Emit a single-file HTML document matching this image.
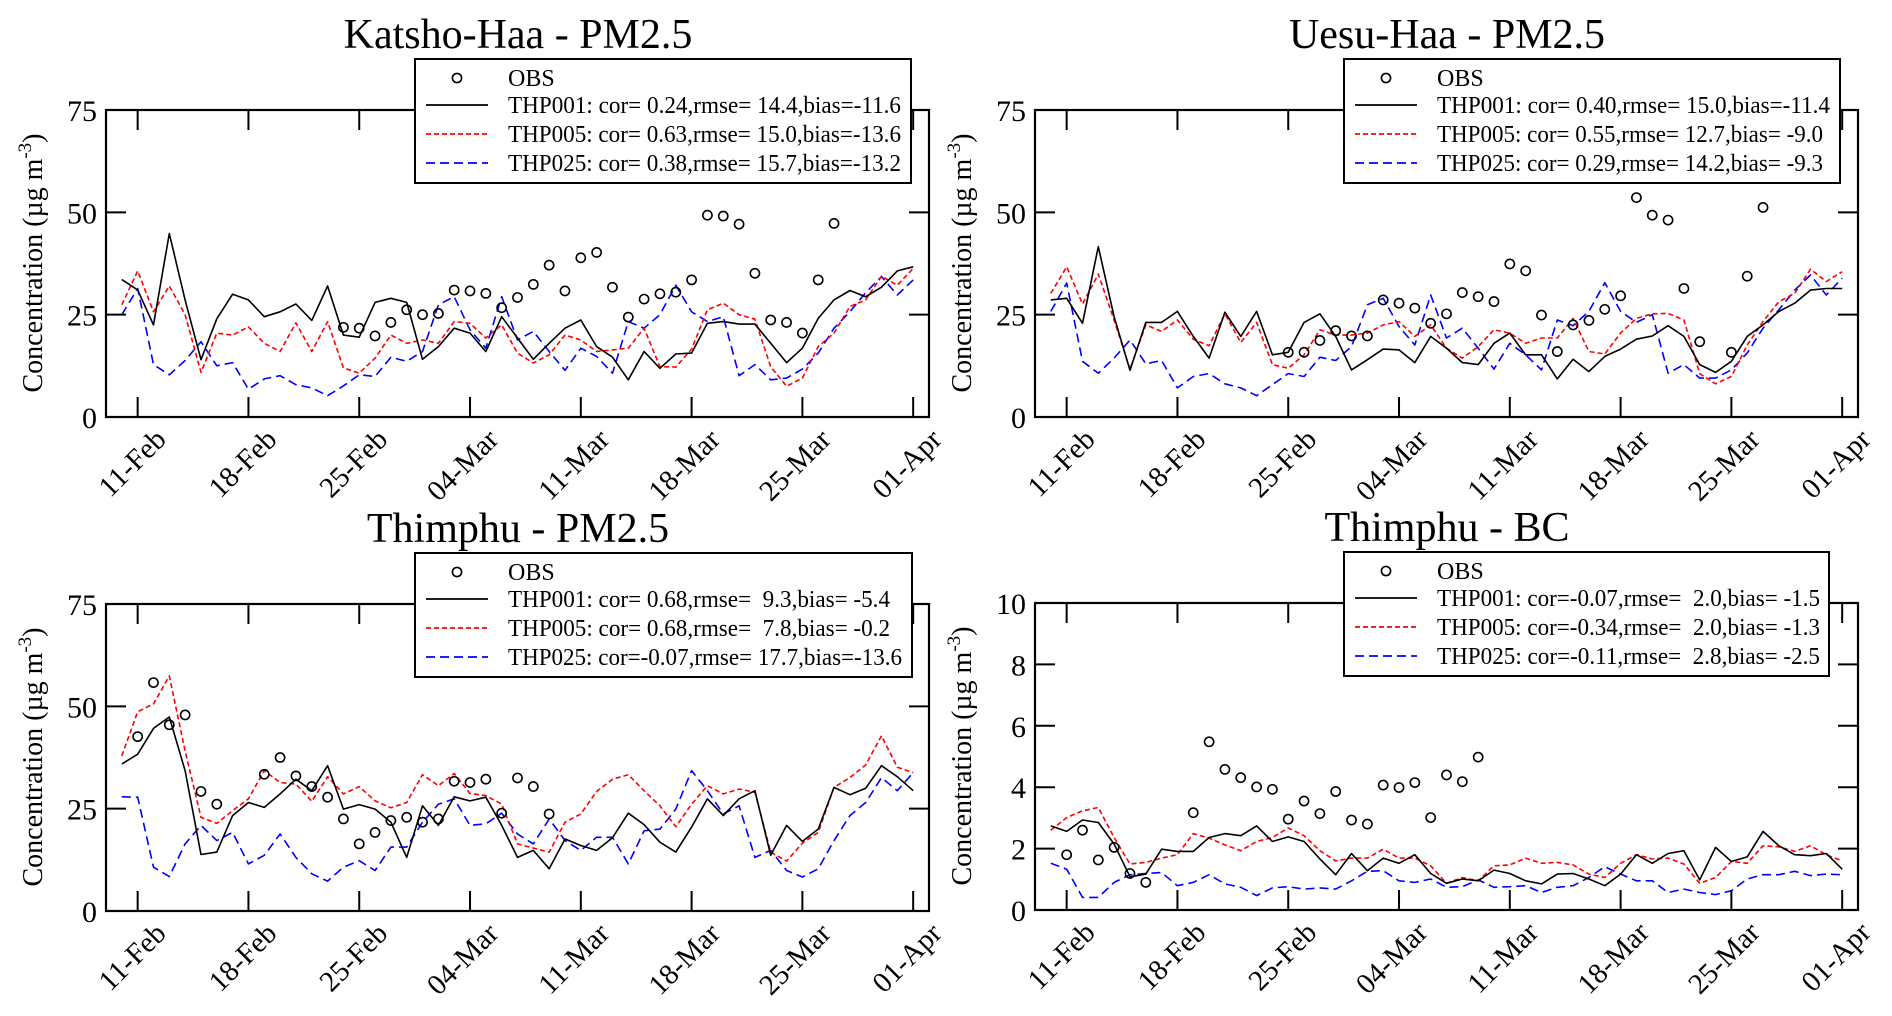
<!DOCTYPE html>
<html><head><meta charset="utf-8">
<style>
html,body{margin:0;padding:0;background:#fff;}
svg, svg text, svg tspan{font-family:"Liberation Serif","Times New Roman",Times,"DejaVu Serif","Noto Serif CJK SC",serif !important;}
</style></head>
<body>
<svg id="fig" width="1892" height="1011" viewBox="0 0 1892 1011" xmlns="http://www.w3.org/2000/svg"></svg>
<script>
// ---- shared axis data ----
const tickDays = [2, 9, 16, 23, 30, 37, 44, 51];
const tickLabels = ["11-Feb", "18-Feb", "25-Feb", "04-Mar", "11-Mar", "18-Mar", "25-Mar", "01-Apr"];
const pmTicks = [0, 25, 50, 75];
const bcTicks = [0, 2, 4, 6, 8, 10];

// ---- Katsho-Haa PM2.5 ----
const khThp001 = [33.6,31,22.5,44.8,28.6,14,24,30,28.6,24.5,25.7,27.6,23.6,32,20,19.5,28,29,28,14.1,17.2,21.7,20.5,16,24.5,19.3,14.1,18,21.7,23.7,17.2,14.6,9.1,16,11.9,15.4,15.6,22.9,23.3,22.7,22.7,18,13.3,16.8,24.1,28.6,30.9,29.4,31.7,35.7,36.7];
const khThp005 = [27.4,35.7,25.7,32,25,10.9,20.5,20,22,18,16,23,16,23.3,12,10.7,14.4,20,18,18.8,18,23.3,22.9,19.3,22.5,15.6,13.2,15.2,20,18.8,16,16.4,16.8,21.7,12.3,12.2,16.6,26.2,27.8,25,23.9,12.3,7.5,9.5,17.2,20.5,27,28.6,34.4,32.2,36.3];
const khThp025 = [25,31.4,12.8,10.3,13.8,18.4,12.5,13.3,6.8,9.3,10.1,7.9,7.1,5.2,7.6,10.3,9.9,14.6,13.6,16,27.4,29.4,21.3,16.8,29.4,18.8,20.9,16,11.4,16.8,14.8,10.7,23.3,21.7,25,32.2,25.7,23.3,24.5,10.1,12.8,9.1,9.5,11.7,15.6,21.7,25.7,30.4,34.3,29.8,33.5];
const khObsDays = [15,16,17,18,19,20,21,22,23,24,25,26,27,28,29,30,31,32,33,34,35,36,37,38,39,40,41,42,43,44,45,46];
const khObsVals = [21.9,21.7,19.8,23.1,26.2,25,25.3,31,30.8,30.2,26.7,29.2,32.4,37.1,30.8,38.9,40.2,31.7,24.4,28.8,30.1,30.5,33.5,49.3,49.1,47.1,35.1,23.7,23.1,20.5,33.5,47.3];

// ---- Uesu-Haa PM2.5 ----
const uhThp001 = [28.6,29,22.9,41.6,24.5,11.4,23.1,23.1,25.8,19.7,14.4,25.6,19.7,25.8,15.2,15.8,23.1,25.2,19.7,11.5,14,16.6,16.4,13.3,19.7,16.8,13.3,12.8,18,20.5,15.2,15.2,9.3,14.1,11.1,14.8,16.6,19,19.8,22.3,19.7,12.8,10.9,13.6,19.7,22.5,25.8,27.8,31,31.4,31.4];
const uhThp005 = [30.2,36.7,27.6,34.9,23.7,11.7,22.5,20.9,23.7,19,17.4,25.2,18.2,23.1,12.8,11.9,15.2,21.3,20,20,20.5,22.5,23.3,19.7,22.5,16.8,14.4,17.2,21.3,20.5,18,19.3,19.3,24.1,16,15.4,20.5,24.1,25.2,25.3,23.7,10.6,8.1,9.9,17.6,23.3,28.2,30.2,36.1,33.1,35.5];
const uhThp025 = [25.8,32.7,13.6,10.7,14.4,18.8,13,13.8,7.1,9.9,10.6,8.1,7.1,5.2,7.9,10.6,9.9,14.6,13.8,17.2,27.4,29,22.1,17.6,29.8,19.3,21.7,16.8,11.7,18,15.2,11.5,23.7,22.3,25.8,32.8,25.8,23.1,25,10.7,12.8,9.5,9.5,11.5,15.6,21.7,26.2,31,34.7,29.8,33.9];
const uhObsDays = [16,17,18,19,20,21,22,23,24,25,26,27,28,29,30,31,32,33,34,35,36,37,38,39,40,41,42,44,45,46];
const uhObsVals = [15.8,15.8,18.7,21.1,19.8,19.8,28.6,27.8,26.6,22.9,25.2,30.4,29.4,28.2,37.4,35.7,24.9,16,22.5,23.6,26.3,29.6,53.6,49.3,48.1,31.4,18.4,15.8,34.4,51.2];

// ---- Thimphu PM2.5 ----
const tpThp001 = [35.9,38.3,44.6,47.4,34.3,13.8,14.4,23.3,26.5,25.3,28.6,32.2,29.4,35.5,24.9,26,24.9,21.7,13.1,25.7,20.9,27.9,26.9,27.8,20.9,13.1,14.8,10.3,17.6,16,14.8,17.9,23.9,21.1,16.8,14.4,20.5,27.4,23.3,27.4,29.4,13.6,20.9,17,20,30.2,28.4,30,35.5,32.8,29.4];
const tpThp005 = [37.9,48.7,50.6,57.4,39.1,22.9,21.4,24.5,27.4,34.3,31.4,31,26.8,32.8,28.6,30.4,26.9,25.2,26.5,33.3,30.6,33.6,28.7,28.2,26.1,16.4,15.4,14.4,21.7,23.7,29.2,32.2,33.3,29.4,25.7,20.6,26.1,30.6,28.6,29.8,29,14.4,12.2,16.6,19.2,30.2,32.6,35.7,42.8,35.1,33.8];
const tpThp025 = [27.9,27.8,10.7,8.4,16.4,20.9,17.2,19.2,11.5,13.6,18.8,13.1,9.1,7.3,10.7,12.3,9.9,15.6,15.6,21.7,26.1,27.4,20.9,21.3,23.9,18.8,16.4,22.5,17.2,14.8,18,18,11.5,19.6,20,24.9,34.3,29.4,23.7,25.7,13.1,14.8,9.9,8.3,10.3,17.2,23.3,26.5,32.6,29.4,33.8];
const tpObsDays = [2,3,4,5,6,7,10,11,12,13,14,15,16,17,18,19,20,21,22,23,24,25,26,27,28];
const tpObsVals = [42.6,55.8,45.5,47.9,29.2,26.1,33.4,37.5,33,30.4,27.8,22.5,16.4,19.2,22.1,22.9,21.7,22.5,31.7,31.4,32.2,23.9,32.5,30.4,23.7];

// ---- Thimphu BC ----
const bcThp001 = [2.74,2.56,2.93,2.85,2.15,1.08,1.17,1.98,1.91,1.91,2.36,2.49,2.42,2.74,2.23,2.38,2.23,1.66,1.15,1.84,1.28,1.69,1.52,1.8,1.19,0.87,1.01,0.95,1.3,1.19,0.95,0.85,1.17,1.19,1.01,0.79,1.17,1.8,1.52,1.84,1.93,0.98,2.04,1.58,1.73,2.56,2.09,1.8,1.77,1.84,1.33];
const bcThp005 = [2.6,3.01,3.23,3.34,2.36,1.5,1.55,1.69,1.8,2.49,2.34,2.12,1.93,2.23,2.36,2.67,2.42,1.93,1.6,1.69,1.69,1.98,1.69,1.69,1.44,0.87,1.06,0.95,1.44,1.47,1.69,1.52,1.55,1.47,1.17,1.06,1.52,1.8,1.66,1.69,1.5,0.87,1.06,1.58,1.52,2.09,2.06,1.91,2.09,1.8,1.6];
const bcThp025 = [1.52,1.33,0.41,0.41,0.9,1.15,1.19,1.22,0.79,0.9,1.15,0.85,0.74,0.47,0.72,0.76,0.68,0.72,0.68,0.95,1.26,1.28,0.95,0.9,1.01,0.74,0.76,0.98,0.74,0.76,0.79,0.57,0.74,0.79,1.06,1.41,1.17,0.95,0.95,0.57,0.68,0.57,0.5,0.63,1.01,1.15,1.15,1.26,1.12,1.17,1.15];
const bcObsDays = [2,3,4,5,6,7,10,11,12,13,14,15,16,17,18,19,20,21,22,23,24,25,26,27,28];
const bcObsVals = [1.8,2.6,1.63,2.04,1.19,0.9,3.17,5.48,4.58,4.31,4.01,3.93,2.96,3.55,3.14,3.86,2.93,2.8,4.07,3.99,4.15,3.01,4.4,4.18,4.98];

const khLegend = ["THP001: cor= 0.24,rmse= 14.4,bias=-11.6","THP005: cor= 0.63,rmse= 15.0,bias=-13.6","THP025: cor= 0.38,rmse= 15.7,bias=-13.2"];
const uhLegend = ["THP001: cor= 0.40,rmse= 15.0,bias=-11.4","THP005: cor= 0.55,rmse= 12.7,bias= -9.0","THP025: cor= 0.29,rmse= 14.2,bias= -9.3"];
const tpLegend = ["THP001: cor= 0.68,rmse=  9.3,bias= -5.4","THP005: cor= 0.68,rmse=  7.8,bias= -0.2","THP025: cor=-0.07,rmse= 17.7,bias=-13.6"];
const bcLegend = ["THP001: cor=-0.07,rmse=  2.0,bias= -1.5","THP005: cor=-0.34,rmse=  2.0,bias= -1.3","THP025: cor=-0.11,rmse=  2.8,bias= -2.5"];

const NS = "http://www.w3.org/2000/svg";
const FONT = "'Liberation Serif', 'Times New Roman', Times, 'DejaVu Serif', 'Noto Serif CJK SC', serif";
const svg = document.getElementById("fig");
function mk(tag, attrs, parent) {
  const e = document.createElementNS(NS, tag);
  for (const k in attrs) e.setAttribute(k, attrs[k]);
  if (tag === "text") e.setAttribute("font-family", FONT);
  (parent || svg).appendChild(e);
  return e;
}

function panel(cfg) {
  const g = mk("g", {});
  
  
  const L = cfg.left, R = cfg.left + 823, T = cfg.top, B = cfg.top + 307;
  const dayMin = 0, dayMax = 52;
  const xs = d => L + (d - dayMin) / (dayMax - dayMin) * (R - L);
  const ys = v => B - (v - cfg.yMin) / (cfg.yMax - cfg.yMin) * (B - T);

  const title = mk("text", {x: L + 412, y: T - 62, "text-anchor": "middle", "font-size": 42, fill: "#000"}, g);
  title.textContent = cfg.title;
  
  

  const series = [
    {vals: cfg.s1, color: "#000", dash: "", nm: "thp001-line"},
    {vals: cfg.s2, color: "#ff0000", dash: "5,3", nm: "thp005-line"},
    {vals: cfg.s3, color: "#0000ff", dash: "9,5", nm: "thp025-line"}
  ];
  series.slice().reverse().forEach(s => {
    const pts = s.vals.map((v, i) => xs(i + 1).toFixed(1) + "," + ys(v).toFixed(1)).join(" ");
    const pl = mk("polyline", {points: pts, fill: "none", stroke: s.color, "stroke-width": 1.6, "stroke-dasharray": s.dash, "stroke-linejoin": "round"}, g);
    
    
  });
  cfg.od.forEach((d, i) => {
    const c = mk("circle", {cx: xs(d), cy: ys(cfg.ov[i]), r: 4.6, fill: "none", stroke: "#000", "stroke-width": 1.6}, g);
    
    
  });

  const fr = mk("rect", {x: L, y: T, width: R - L, height: B - T, fill: "none", stroke: "#000", "stroke-width": 2.2}, g);
  
  

  tickDays.forEach((d, i) => {
    const x = xs(d);
    mk("line", {x1: x, y1: B, x2: x, y2: B - 20, stroke: "#000", "stroke-width": 2}, g);
    mk("line", {x1: x, y1: T, x2: x, y2: T + 20, stroke: "#000", "stroke-width": 2}, g);
    const ax = x + 30, ay = B + 24;
    const t = mk("text", {x: ax, y: ay, "text-anchor": "end", "font-size": 29, transform: `rotate(-45 ${ax} ${ay})`}, g);
    t.textContent = tickLabels[i];
    
    
  });
  cfg.yt.forEach(v => {
    const y = ys(v);
    mk("line", {x1: L, y1: y, x2: L + 20, y2: y, stroke: "#000", "stroke-width": 2}, g);
    mk("line", {x1: R, y1: y, x2: R - 20, y2: y, stroke: "#000", "stroke-width": 2}, g);
    const t = mk("text", {x: L - 9, y: y + 11, "text-anchor": "end", "font-size": 30}, g);
    t.textContent = v;
    
    
  });
  const cx = L - 64, cy = T + 153;
  const yt = mk("text", {x: cx, y: cy, "text-anchor": "middle", "font-size": 28, transform: `rotate(-90 ${cx} ${cy})`}, g);
  
  
  const t1 = mk("tspan", {}, yt); t1.textContent = "Concentration (µg m";
  const t2 = mk("tspan", {dy: -11, "font-size": 19}, yt); t2.textContent = "-3";
  const t3 = mk("tspan", {dy: 11}, yt); t3.textContent = ")";

  const lg = mk("g", {}, g);
  
  
  const lx = cfg.lx, ly = cfg.ly;
  mk("rect", {x: lx, y: ly, width: cfg.lw, height: 124, fill: "#fff", stroke: "#000", "stroke-width": 2}, lg);
  const rows = [ly + 19, ly + 46, ly + 75, ly + 104];
  const oc = mk("circle", {cx: lx + 42, cy: rows[0], r: 4.6, fill: "none", stroke: "#000", "stroke-width": 1.6}, lg);
  
  
  const ot = mk("text", {x: lx + 93, y: rows[0] + 8, "font-size": 24}, lg);
  ot.textContent = "OBS";
  
  
  series.forEach((s, i) => {
    const y = rows[i + 1];
    mk("line", {x1: lx + 11, y1: y, x2: lx + 73, y2: y, stroke: s.color, "stroke-width": 1.8, "stroke-dasharray": s.dash}, lg);
    const t = mk("text", {x: lx + 93, y: y + 8, "font-size": 24, textLength: cfg.tw[i], lengthAdjust: "spacingAndGlyphs"}, lg);
    t.setAttribute("style", "white-space:pre");
    t.textContent = cfg.leg[i];
    
    
  });
}

panel({name: "katsho-haa-pm25-chart", title: "Katsho-Haa - PM2.5", left: 106, top: 110, yMin: 0, yMax: 75, yt: pmTicks,
  s1: khThp001, s2: khThp005, s3: khThp025, od: khObsDays, ov: khObsVals,
  lx: 415, ly: 59, lw: 496, leg: khLegend, tw: [393, 393, 393]});
panel({name: "uesu-haa-pm25-chart", title: "Uesu-Haa - PM2.5", left: 1035, top: 110, yMin: 0, yMax: 75, yt: pmTicks,
  s1: uhThp001, s2: uhThp005, s3: uhThp025, od: uhObsDays, ov: uhObsVals,
  lx: 1344, ly: 59, lw: 496, leg: uhLegend, tw: [393, 386, 386]});
panel({name: "thimphu-pm25-chart", title: "Thimphu - PM2.5", left: 106, top: 604, yMin: 0, yMax: 75, yt: pmTicks,
  s1: tpThp001, s2: tpThp005, s3: tpThp025, od: tpObsDays, ov: tpObsVals,
  lx: 415, ly: 553, lw: 497, leg: tpLegend, tw: [382, 382, 394]});
panel({name: "thimphu-bc-chart", title: "Thimphu - BC", left: 1035, top: 603, yMin: 0, yMax: 10, yt: bcTicks,
  s1: bcThp001, s2: bcThp005, s3: bcThp025, od: bcObsDays, ov: bcObsVals,
  lx: 1344, ly: 552, lw: 485, leg: bcLegend, tw: [383, 383, 383]});
</script>
</body></html>
